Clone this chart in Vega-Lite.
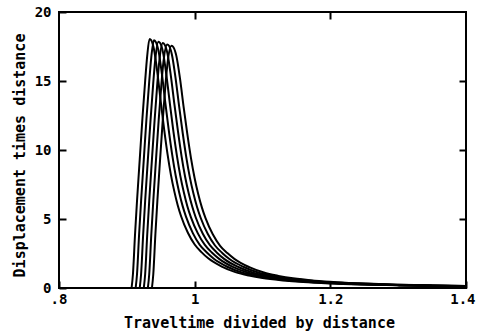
{
  "$schema": "https://vega.github.io/schema/vega-lite/v6.json",
  "width": 407,
  "height": 276,
  "autosize": "none",
  "padding": {"left": 59, "top": 12, "right": 11, "bottom": 47},
  "background": "white",
  "config": {
    "view": {"stroke": "black", "strokeWidth": 2},
    "axis": {
      "grid": false,
      "domain": false,
      "tickColor": "black",
      "tickWidth": 2,
      "tickSize": -7,
      "labelFont": "DejaVu Sans Mono",
      "labelFontWeight": "bold",
      "labelFontSize": 14,
      "labelColor": "black",
      "labelOverlap": false,
      "labelFlush": false,
      "titleFont": "DejaVu Sans Mono",
      "titleFontWeight": "bold",
      "titleFontSize": 15,
      "titleColor": "black"
    }
  },
  "data": {
    "values": [
      {"c":1,"x":0.907,"y":0},{"c":1,"x":0.909,"y":1.0},{"c":1,"x":0.912,"y":3.8},{"c":1,"x":0.915,"y":6.3},{"c":1,"x":0.919,"y":9.3},{"c":1,"x":0.923,"y":12.3},{"c":1,"x":0.927,"y":15.0},{"c":1,"x":0.930,"y":16.8},{"c":1,"x":0.9335,"y":18.05},
      {"c":1,"x":0.936,"y":17.95},{"c":1,"x":0.940,"y":17.3},{"c":1,"x":0.945,"y":15.6},{"c":1,"x":0.950,"y":13.5},{"c":1,"x":0.955,"y":11.5},{"c":1,"x":0.960,"y":9.7},{"c":1,"x":0.965,"y":8.2},{"c":1,"x":0.970,"y":7.0},{"c":1,"x":0.975,"y":6.0},{"c":1,"x":0.980,"y":5.2},{"c":1,"x":0.990,"y":4.0},{"c":1,"x":1.000,"y":3.15},{"c":1,"x":1.010,"y":2.6},{"c":1,"x":1.020,"y":2.15},{"c":1,"x":1.040,"y":1.55},{"c":1,"x":1.060,"y":1.15},{"c":1,"x":1.080,"y":0.9},{"c":1,"x":1.100,"y":0.72},{"c":1,"x":1.130,"y":0.55},{"c":1,"x":1.160,"y":0.43},{"c":1,"x":1.200,"y":0.33},{"c":1,"x":1.250,"y":0.25},{"c":1,"x":1.300,"y":0.19},{"c":1,"x":1.350,"y":0.15},{"c":1,"x":1.400,"y":0.12},

      {"c":2,"x":0.913,"y":0},{"c":2,"x":0.915,"y":1.0},{"c":2,"x":0.918,"y":3.8},{"c":2,"x":0.921,"y":6.3},{"c":2,"x":0.925,"y":9.3},{"c":2,"x":0.929,"y":12.3},{"c":2,"x":0.933,"y":14.95},{"c":2,"x":0.936,"y":16.7},{"c":2,"x":0.940,"y":17.95},
      {"c":2,"x":0.9425,"y":17.85},{"c":2,"x":0.9466,"y":17.2},{"c":2,"x":0.9517,"y":15.51},{"c":2,"x":0.9567,"y":13.43},{"c":2,"x":0.9618,"y":11.44},{"c":2,"x":0.9669,"y":9.65},{"c":2,"x":0.972,"y":8.15},{"c":2,"x":0.977,"y":6.96},{"c":2,"x":0.9821,"y":5.97},{"c":2,"x":0.9872,"y":5.17},{"c":2,"x":0.9973,"y":3.98},{"c":2,"x":1.0075,"y":3.13},{"c":2,"x":1.0176,"y":2.59},{"c":2,"x":1.0278,"y":2.14},{"c":2,"x":1.0481,"y":1.54},{"c":2,"x":1.0684,"y":1.14},{"c":2,"x":1.0887,"y":0.9},{"c":2,"x":1.109,"y":0.72},{"c":2,"x":1.1394,"y":0.55},{"c":2,"x":1.1699,"y":0.43},{"c":2,"x":1.2105,"y":0.33},{"c":2,"x":1.25,"y":0.26},{"c":2,"x":1.3,"y":0.2},{"c":2,"x":1.35,"y":0.16},{"c":2,"x":1.4,"y":0.125},

      {"c":3,"x":0.919,"y":0},{"c":3,"x":0.921,"y":1.0},{"c":3,"x":0.924,"y":3.8},{"c":3,"x":0.927,"y":6.3},{"c":3,"x":0.931,"y":9.3},{"c":3,"x":0.935,"y":12.2},{"c":3,"x":0.939,"y":14.9},{"c":3,"x":0.942,"y":16.6},{"c":3,"x":0.9465,"y":17.85},
      {"c":3,"x":0.9491,"y":17.75},{"c":3,"x":0.9532,"y":17.11},{"c":3,"x":0.9583,"y":15.43},{"c":3,"x":0.9635,"y":13.35},{"c":3,"x":0.9686,"y":11.37},{"c":3,"x":0.9738,"y":9.59},{"c":3,"x":0.9789,"y":8.11},{"c":3,"x":0.9841,"y":6.92},{"c":3,"x":0.9892,"y":5.93},{"c":3,"x":0.9944,"y":5.14},{"c":3,"x":1.0047,"y":3.96},{"c":3,"x":1.015,"y":3.12},{"c":3,"x":1.0253,"y":2.57},{"c":3,"x":1.0356,"y":2.13},{"c":3,"x":1.0562,"y":1.53},{"c":3,"x":1.0768,"y":1.14},{"c":3,"x":1.0974,"y":0.89},{"c":3,"x":1.118,"y":0.71},{"c":3,"x":1.1489,"y":0.54},{"c":3,"x":1.1798,"y":0.43},{"c":3,"x":1.221,"y":0.33},{"c":3,"x":1.25,"y":0.27},{"c":3,"x":1.3,"y":0.21},{"c":3,"x":1.35,"y":0.165},{"c":3,"x":1.4,"y":0.13},

      {"c":4,"x":0.925,"y":0},{"c":4,"x":0.927,"y":1.0},{"c":4,"x":0.930,"y":3.8},{"c":4,"x":0.933,"y":6.3},{"c":4,"x":0.937,"y":9.3},{"c":4,"x":0.941,"y":12.2},{"c":4,"x":0.945,"y":14.85},{"c":4,"x":0.948,"y":16.5},{"c":4,"x":0.953,"y":17.75},
      {"c":4,"x":0.9556,"y":17.65},{"c":4,"x":0.9598,"y":17.01},{"c":4,"x":0.965,"y":15.34},{"c":4,"x":0.9702,"y":13.28},{"c":4,"x":0.9755,"y":11.31},{"c":4,"x":0.9807,"y":9.54},{"c":4,"x":0.9859,"y":8.06},{"c":4,"x":0.9911,"y":6.88},{"c":4,"x":0.9964,"y":5.9},{"c":4,"x":1.0016,"y":5.11},{"c":4,"x":1.012,"y":3.93},{"c":4,"x":1.0225,"y":3.1},{"c":4,"x":1.0329,"y":2.56},{"c":4,"x":1.0434,"y":2.11},{"c":4,"x":1.0643,"y":1.52},{"c":4,"x":1.0852,"y":1.13},{"c":4,"x":1.1061,"y":0.89},{"c":4,"x":1.127,"y":0.71},{"c":4,"x":1.1583,"y":0.54},{"c":4,"x":1.1897,"y":0.42},{"c":4,"x":1.2315,"y":0.32},{"c":4,"x":1.3,"y":0.22},{"c":4,"x":1.35,"y":0.17},{"c":4,"x":1.4,"y":0.135},

      {"c":5,"x":0.931,"y":0},{"c":5,"x":0.933,"y":1.0},{"c":5,"x":0.936,"y":3.8},{"c":5,"x":0.939,"y":6.3},{"c":5,"x":0.943,"y":9.3},{"c":5,"x":0.947,"y":12.2},{"c":5,"x":0.951,"y":14.8},{"c":5,"x":0.954,"y":16.4},{"c":5,"x":0.9595,"y":17.65},
      {"c":5,"x":0.9622,"y":17.55},{"c":5,"x":0.9664,"y":16.92},{"c":5,"x":0.9717,"y":15.26},{"c":5,"x":0.977,"y":13.2},{"c":5,"x":0.9823,"y":11.25},{"c":5,"x":0.9876,"y":9.49},{"c":5,"x":0.9929,"y":8.02},{"c":5,"x":0.9982,"y":6.85},{"c":5,"x":1.0035,"y":5.87},{"c":5,"x":1.0088,"y":5.09},{"c":5,"x":1.0194,"y":3.91},{"c":5,"x":1.03,"y":3.08},{"c":5,"x":1.0406,"y":2.54},{"c":5,"x":1.0512,"y":2.1},{"c":5,"x":1.0724,"y":1.52},{"c":5,"x":1.0936,"y":1.12},{"c":5,"x":1.1148,"y":0.88},{"c":5,"x":1.136,"y":0.7},{"c":5,"x":1.1678,"y":0.54},{"c":5,"x":1.1996,"y":0.42},{"c":5,"x":1.242,"y":0.32},{"c":5,"x":1.3,"y":0.23},{"c":5,"x":1.35,"y":0.18},{"c":5,"x":1.4,"y":0.14},

      {"c":6,"x":0.937,"y":0},{"c":6,"x":0.939,"y":1.0},{"c":6,"x":0.942,"y":3.8},{"c":6,"x":0.945,"y":6.3},{"c":6,"x":0.949,"y":9.3},{"c":6,"x":0.953,"y":12.2},{"c":6,"x":0.957,"y":14.75},{"c":6,"x":0.960,"y":16.3},{"c":6,"x":0.966,"y":17.55},
      {"c":6,"x":0.9687,"y":17.45},{"c":6,"x":0.973,"y":16.82},{"c":6,"x":0.9784,"y":15.17},{"c":6,"x":0.9837,"y":13.13},{"c":6,"x":0.9891,"y":11.18},{"c":6,"x":0.9945,"y":9.43},{"c":6,"x":0.9999,"y":7.97},{"c":6,"x":1.0052,"y":6.81},{"c":6,"x":1.0106,"y":5.84},{"c":6,"x":1.016,"y":5.06},{"c":6,"x":1.0267,"y":3.89},{"c":6,"x":1.0375,"y":3.06},{"c":6,"x":1.0482,"y":2.53},{"c":6,"x":1.059,"y":2.09},{"c":6,"x":1.0805,"y":1.51},{"c":6,"x":1.102,"y":1.12},{"c":6,"x":1.1235,"y":0.88},{"c":6,"x":1.145,"y":0.7},{"c":6,"x":1.1772,"y":0.53},{"c":6,"x":1.2095,"y":0.42},{"c":6,"x":1.2525,"y":0.32},{"c":6,"x":1.3,"y":0.24},{"c":6,"x":1.35,"y":0.19},{"c":6,"x":1.4,"y":0.145}
    ]
  },
  "layer": [
    {
      "mark": {"type": "line", "color": "black", "strokeWidth": 2, "interpolate": "monotone"},
      "encoding": {
        "x": {
          "field": "x", "type": "quantitative",
          "scale": {"domain": [0.8, 1.4], "nice": false, "zero": false},
          "axis": {
            "orient": "bottom",
            "values": [0.8, 1, 1.2, 1.4],
            "format": "~g",
            "labelExpr": "datum.value < 0.9 ? '.8' : datum.label",
            "labelPadding": 11,
            "labelFlush": true,
            "labelFlushOffset": 9,
            "title": "Traveltime divided by distance",
            "titleX": 200,
            "titleY": 39,
            "titleBaseline": "alphabetic"
          }
        },
        "y": {
          "field": "y", "type": "quantitative",
          "scale": {"domain": [0, 20], "nice": false},
          "axis": {
            "orient": "left",
            "values": [0, 5, 10, 15, 20],
            "labelPadding": 15,
            "title": "Displacement times distance",
            "titleX": -35,
            "titleY": 143,
            "titleBaseline": "alphabetic"
          }
        },
        "detail": {"field": "c", "type": "nominal"}
      }
    },
    {
      "mark": {"type": "point", "opacity": 0},
      "encoding": {
        "x": {
          "field": "x", "type": "quantitative",
          "scale": {"domain": [0.8, 1.4], "nice": false, "zero": false},
          "axis": {"orient": "top", "values": [1, 1.2], "labels": false, "title": null}
        },
        "y": {
          "field": "y", "type": "quantitative",
          "scale": {"domain": [0, 20], "nice": false},
          "axis": {"orient": "right", "values": [5, 10, 15], "labels": false, "title": null}
        }
      }
    }
  ],
  "resolve": {"scale": {"x": "independent", "y": "independent"}, "axis": {"x": "independent", "y": "independent"}}
}
